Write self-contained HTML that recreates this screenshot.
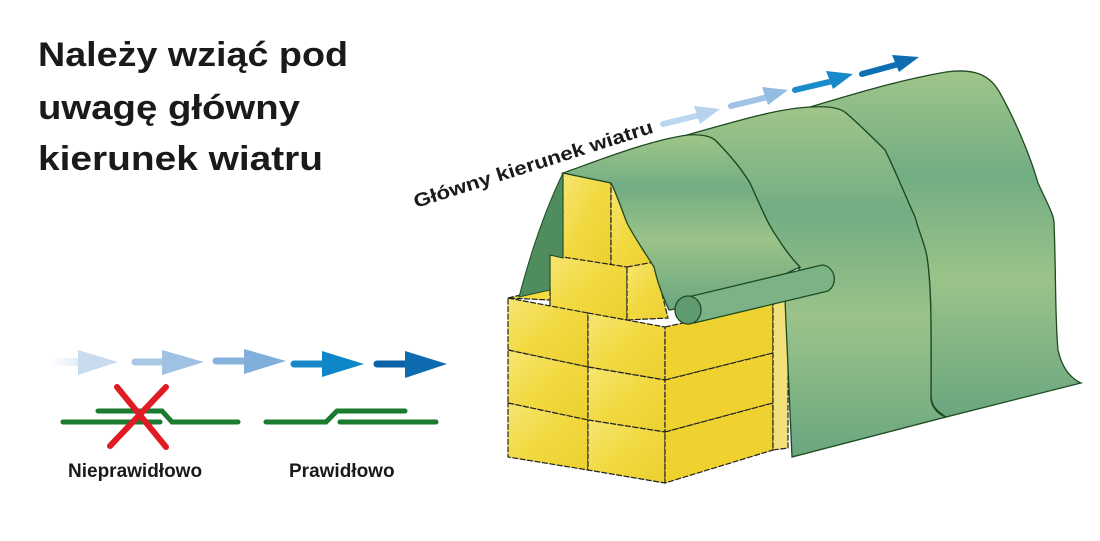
<!DOCTYPE html>
<html><head><meta charset="utf-8"><style>
html,body{margin:0;padding:0;background:#fff;}
svg{display:block;}
text{font-family:"Liberation Sans",sans-serif;font-weight:bold;fill:#1a1a1a;}
</style></head><body>
<svg width="1100" height="541" viewBox="0 0 1100 541" xmlns="http://www.w3.org/2000/svg">
<defs>
<linearGradient id="g1" x1="0" y1="0" x2="0" y2="1">
<stop offset="0" stop-color="#a0c589"/><stop offset="0.3" stop-color="#72ad84"/><stop offset="0.6" stop-color="#9bc389"/><stop offset="1" stop-color="#6aa680"/>
</linearGradient>
<linearGradient id="hay" x1="0" y1="0" x2="1" y2="1">
<stop offset="0" stop-color="#f7e572"/><stop offset="0.5" stop-color="#f2d940"/><stop offset="1" stop-color="#ecd030"/>
</linearGradient>
<linearGradient id="fadeA" x1="0" x2="1"><stop offset="0" stop-color="#dbe8f5" stop-opacity="0"/><stop offset="1" stop-color="#c8dcf0"/></linearGradient>
</defs>

<text x="38" y="66" font-size="34" textLength="310" lengthAdjust="spacingAndGlyphs">Należy wziąć pod</text>
<text x="38" y="119" font-size="34" textLength="262" lengthAdjust="spacingAndGlyphs">uwagę główny</text>
<text x="38" y="170" font-size="34" textLength="285" lengthAdjust="spacingAndGlyphs">kierunek wiatru</text>

<g>
<rect x="48" y="358" width="50" height="8" fill="url(#fadeA)"/>
<polygon points="78,350 118,362 78,375" fill="#c9dcef"/>
<line x1="135" y1="362" x2="165" y2="362" stroke="#a9c8e6" stroke-width="7" stroke-linecap="round"/>
<polygon points="162,350 204,362 162,375" fill="#9fc1e3"/>
<line x1="216" y1="361" x2="246" y2="361" stroke="#86b2dc" stroke-width="7" stroke-linecap="round"/>
<polygon points="244,349 286,361 244,374" fill="#80afdb"/>
<line x1="294" y1="364" x2="324" y2="364" stroke="#1787c6" stroke-width="7" stroke-linecap="round"/>
<polygon points="322,351 364,364 322,377" fill="#0f86c8"/>
<line x1="377" y1="364" x2="407" y2="364" stroke="#0b62a6" stroke-width="7" stroke-linecap="round"/>
<polygon points="405,351 447,364 405,378" fill="#0f6bb0"/>
</g>

<g stroke="#1a7a2e" stroke-width="5" stroke-linecap="round" fill="none">
<line x1="63" y1="422" x2="160" y2="422"/>
<polyline points="98,411 162,411 172,422 238,422"/>
<polyline points="266,422 326,422 337,411 405,411"/>
<line x1="340" y1="422" x2="436" y2="422"/>
</g>
<g stroke="#e01b24" stroke-width="6" stroke-linecap="round">
<line x1="117" y1="387" x2="166" y2="447"/>
<line x1="166" y1="387" x2="110" y2="446"/>
</g>
<text x="68" y="477" font-size="19">Nieprawidłowo</text>
<text x="289" y="477" font-size="19">Prawidłowo</text>

<text transform="translate(416,208) rotate(-17.6)" font-size="19" textLength="250" lengthAdjust="spacingAndGlyphs">Główny kierunek wiatru</text>

<g stroke-linecap="round">
<line x1="663" y1="124" x2="700" y2="115" stroke="#bcd6ef" stroke-width="6"/>
<polygon points="694,106 720,109 700,124" fill="#b8d3ee"/>
<line x1="731" y1="106" x2="768" y2="97" stroke="#9fc2e5" stroke-width="6"/>
<polygon points="762,87 788,90 768,105" fill="#94bce3"/>
<line x1="795" y1="90" x2="833" y2="81" stroke="#1a8cca" stroke-width="6"/>
<polygon points="826,71 853,74 833,89" fill="#1788c8"/>
<line x1="862" y1="74" x2="899" y2="64" stroke="#0e6fb3" stroke-width="6"/>
<polygon points="892,55 919,57 899,72" fill="#0f6db2"/>
</g>

<g stroke="#222" stroke-width="1.2" stroke-dasharray="6 1.5" fill="url(#hay)">
<polygon points="563,173 611,183 611,267 563,258"/>
<polygon points="611,183 640,190 654,267 611,267"/>
<polygon points="550,255 627,267 627,320 550,307"/>
<polygon points="627,267 654,262 668,318 627,320"/>
<polygon points="508,298 588,313 588,367 508,350"/>
<polygon points="588,313 665,327 665,380 588,367"/>
<polygon points="508,350 588,367 588,420 508,403"/>
<polygon points="588,367 665,380 665,432 588,420"/>
<polygon points="508,403 588,420 588,470 508,457"/>
<polygon points="588,420 665,432 665,483 588,470"/>
<polygon points="665,327 773,303 773,353 665,380" fill="#efd230"/>
<polygon points="665,380 773,353 773,403 665,432" fill="#efd230"/>
<polygon points="665,432 773,403 773,450 665,483" fill="#efd230"/>
<polygon points="773,303 788,300 788,448 773,450" fill="#f2e07a"/>
<polygon points="508,298 550,288 550,300" fill="#f5dc40"/>
</g>

<!-- back panel -->
<path d="M800,110 C860,92 900,80 946,72 C975,68 990,75 1000,93 C1015,120 1030,155 1038,183 C1048,205 1054,215 1054,223 C1056,270 1055,320 1058,350 C1062,368 1070,378 1081,383 L946,417 C935,410 930,405 931,390 C931,330 932,290 927,257 C925,245 920,235 915,217 C905,195 895,170 885,150 C875,140 860,125 846,113 C840,108 830,106 800,110 Z" fill="url(#g1)" stroke="#1e4a20" stroke-width="1.3"/>
<!-- middle panel -->
<path d="M680,137 C740,120 780,108 811,107 C830,106 840,108 846,113 C860,125 875,140 885,150 C895,170 905,195 915,217 C920,235 925,245 927,257 C932,290 931,340 931,400 C933,410 940,415 946,417 L792,457 C790,420 788,360 785,300 L800,267 C793,260 785,250 777,237 C768,225 760,205 750,183 C742,170 730,155 715,140 C710,136 700,134 680,137 Z" fill="url(#g1)" stroke="#1e4a20" stroke-width="1.3"/>
<!-- front panel -->
<path d="M563,173 C600,160 650,140 688,135 C700,134 710,136 715,140 C730,155 742,170 750,183 C760,205 768,225 777,237 C785,250 793,260 800,267 L730,300 L669,310 C660,290 657,280 654,267 C640,245 633,235 627,223 C620,205 615,190 611,183 Z" fill="url(#g1)" stroke="#1e4a20" stroke-width="1.3"/>
<path d="M563,173 C545,210 530,255 519,297 L550,290 L550,255 L563,258 Z" fill="#4f8c5e" stroke="#1e4a20" stroke-width="1"/>
<path d="M688,297 L822,265 A13,14 0 0 1 828,291 L694,323 Z" fill="#7cb386" stroke="#1e4a20" stroke-width="1.3"/>
<ellipse cx="688" cy="310" rx="13" ry="14" fill="#5f9a70" stroke="#1e4a20" stroke-width="1.3"/>
</svg>
</body></html>
